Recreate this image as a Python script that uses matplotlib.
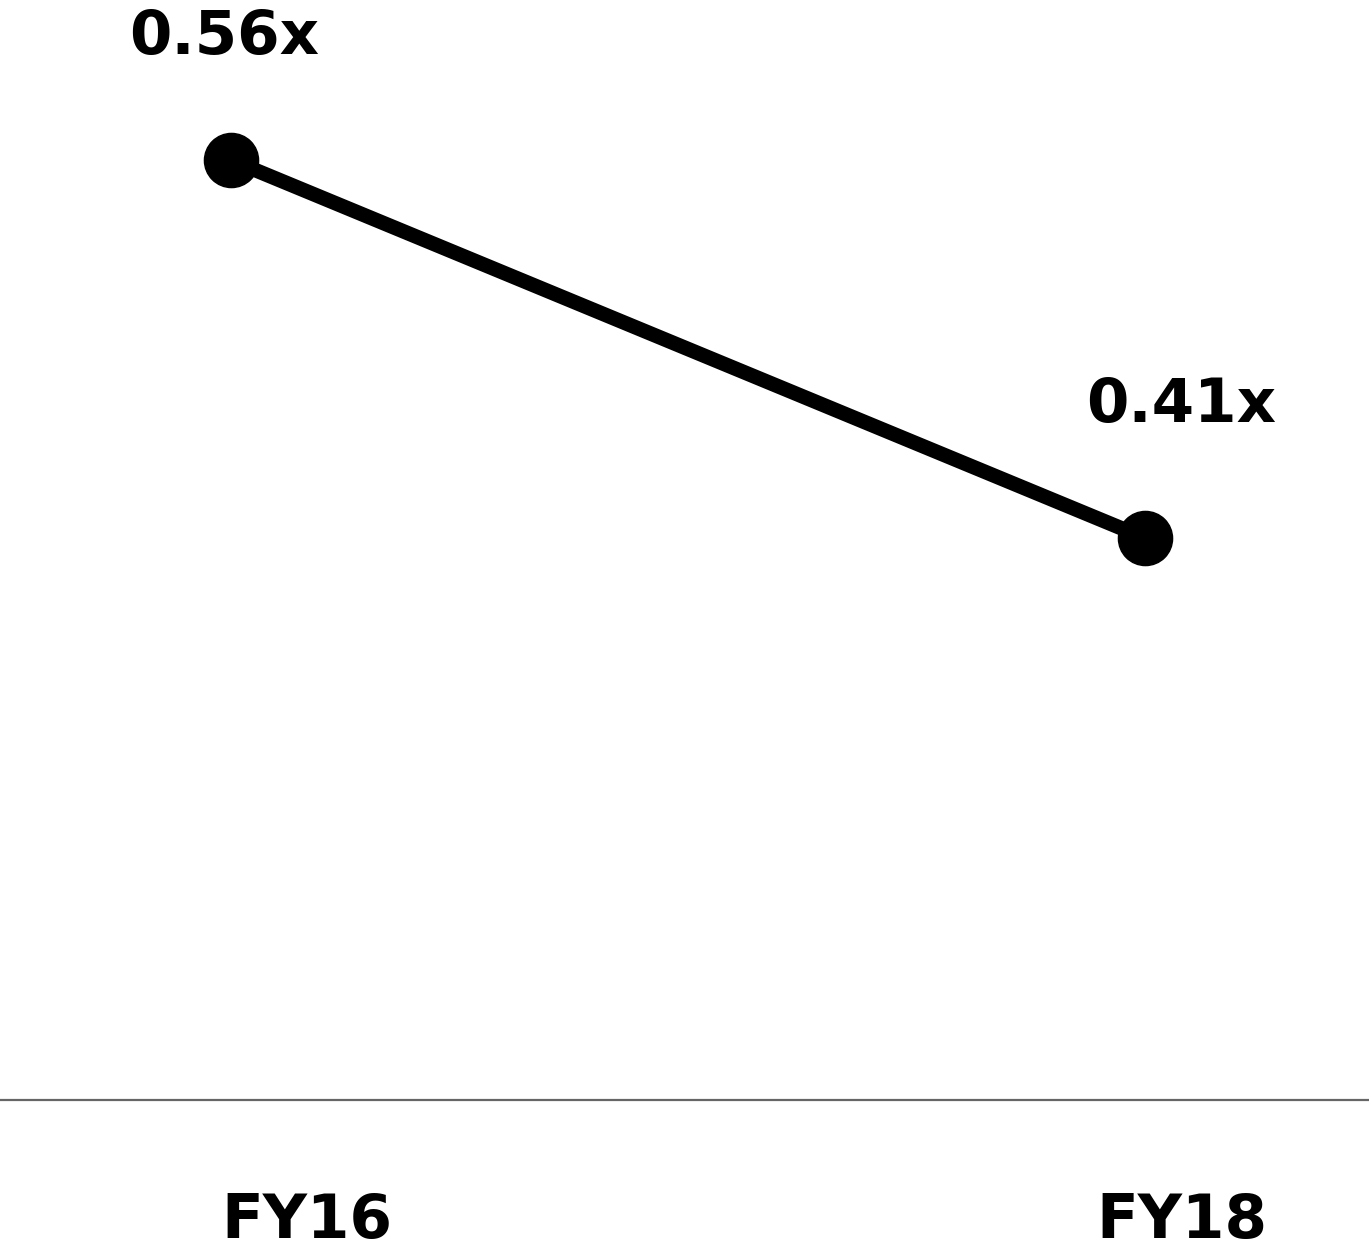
import matplotlib.pyplot as plt

# data
years = ["FY16", "FY18"]
ratios = [0.56, 0.41]
ratio_labels = ["0.56x", "0.41x"]

W, H, DPI = 1369, 1254, 100
fig = plt.figure(figsize=(W / DPI, H / DPI), dpi=DPI)
fig.patch.set_facecolor("white")

# axes bottom sits on the grey baseline
base_px = 1100
ax = fig.add_axes([0, (H - base_px) / H, 1, base_px / H])

xs = list(range(len(years)))
ax.plot(xs, ratios, color="black", lw=10.5, solid_capstyle="round",
        marker="o", markersize=39, zorder=3)

# scales chosen so the points land where the reference puts them
ax.set_xlim(-0.2527, 1.245)
ax.set_ylim(0.187, 0.6235)

for s in ["top", "left", "right"]:
    ax.spines[s].set_visible(False)
ax.spines["bottom"].set_color("#666666")
ax.spines["bottom"].set_linewidth(1.6)
ax.set_xticks([])
ax.set_yticks([])

font = dict(family="DejaVu Sans", fontweight="bold", fontsize=44, color="black")

# value labels above the points
val_offsets = [(-7, 106), (36, 116)]
for x, y, lab, off in zip(xs, ratios, ratio_labels, val_offsets):
    ax.annotate(lab, (x, y), xytext=off, textcoords="offset pixels",
                ha="center", va="baseline", **font)

# category labels under the baseline
cat_offsets = [76, 37]
for x, lab, dx in zip(xs, years, cat_offsets):
    ax.annotate(lab, (x, 0), xycoords=("data", "axes fraction"),
                xytext=(dx, -138), textcoords="offset pixels",
                ha="center", va="baseline", **font)

fig.savefig("out.png", dpi=DPI, facecolor="white")
